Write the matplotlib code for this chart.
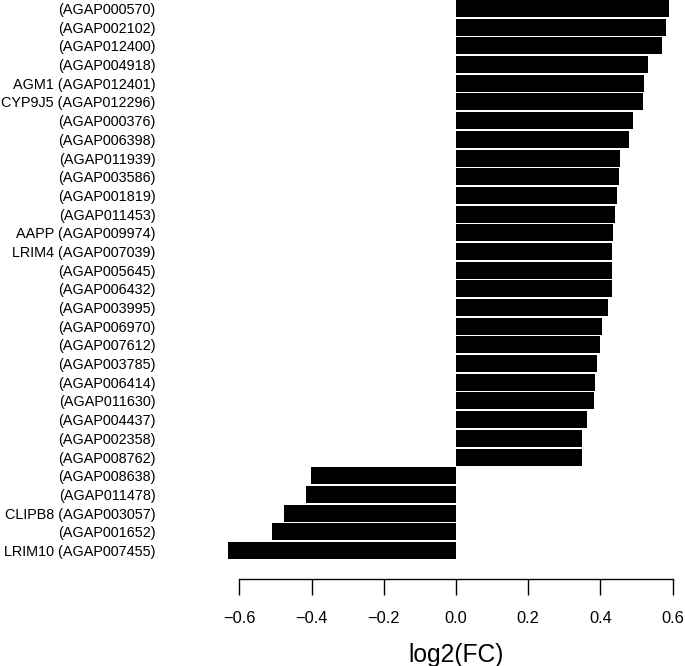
import matplotlib
matplotlib.use("Agg")
import matplotlib.pyplot as plt

plt.rcParams['font.family'] = ['Liberation Sans', 'DejaVu Sans']

labels = [
    "(AGAP000570)", "(AGAP002102)", "(AGAP012400)", "(AGAP004918)",
    "AGM1 (AGAP012401)", "CYP9J5 (AGAP012296)", "(AGAP000376)", "(AGAP006398)",
    "(AGAP011939)", "(AGAP003586)", "(AGAP001819)", "(AGAP011453)",
    "AAPP (AGAP009974)", "LRIM4 (AGAP007039)", "(AGAP005645)", "(AGAP006432)",
    "(AGAP003995)", "(AGAP006970)", "(AGAP007612)", "(AGAP003785)",
    "(AGAP006414)", "(AGAP011630)", "(AGAP004437)", "(AGAP002358)",
    "(AGAP008762)", "(AGAP008638)", "(AGAP011478)", "CLIPB8 (AGAP003057)",
    "(AGAP001652)", "LRIM10 (AGAP007455)",
]
log2fc = [
    0.589, 0.581, 0.569, 0.532, 0.520, 0.518, 0.491, 0.480,
    0.455, 0.450, 0.445, 0.440, 0.434, 0.432, 0.432, 0.431,
    0.420, 0.404, 0.400, 0.391, 0.384, 0.382, 0.364, 0.350,
    0.348, -0.402, -0.414, -0.476, -0.510, -0.630,
]
xticks = [-0.6, -0.4, -0.2, 0.0, 0.2, 0.4, 0.6]

W, H = 685, 666
fig = plt.figure(figsize=(W / 100, H / 100), dpi=100)
ax_left, ax_right, ax_top, ax_bottom = 211, 685, 0, 566
ax = fig.add_axes([ax_left / W, 1 - ax_bottom / H, (ax_right - ax_left) / W, (ax_bottom - ax_top) / H])

pos = list(range(len(labels)))
ax.barh(pos, log2fc, height=0.91, color='black', edgecolor='none')

ax.set_xlim(-0.6783, 0.6340)
ax.set_ylim(29.83, -0.455)

for s in ['top', 'right', 'left']:
    ax.spines[s].set_visible(False)
ax.spines['bottom'].set_position(('outward', 9.6))
ax.spines['bottom'].set_bounds(-0.6, 0.6)
ax.spines['bottom'].set_linewidth(1.0)

ax.set_xticks(xticks)
ax.set_xticklabels(["\u22120.6", "\u22120.4", "\u22120.2", "0.0", "0.2", "0.4", "0.6"])
ax.tick_params(axis='x', length=11.5, width=1.0, pad=11, labelsize=11.8, direction='out')

ax.set_yticks(pos)
ax.set_yticklabels(labels)
ax.tick_params(axis='y', length=0, pad=40, labelsize=10.4)

ax.set_xlabel("log2(FC)", fontsize=17.7)
ax.xaxis.set_label_coords((456 - ax_left) / (ax_right - ax_left), (ax_bottom - 655) / (ax_bottom - ax_top))
ax.xaxis.label.set_va('center')

fig.savefig("out.png", dpi=100)
